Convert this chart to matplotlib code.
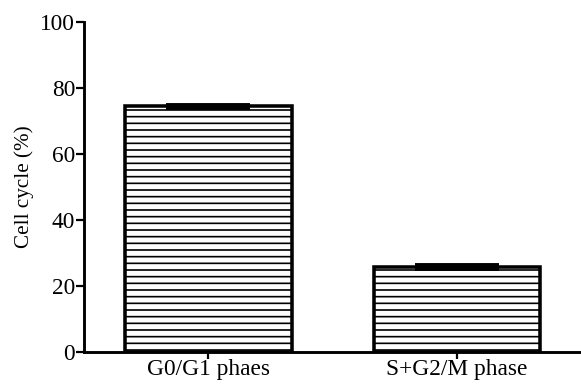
import matplotlib.pyplot as plt

# data
phases = ['G0/G1 phaes', 'S+G2/M phase']
percent = [74.5, 25.9]
err = [0.5, 0.6]

plt.rcParams['font.family'] = 'Liberation Serif'
plt.rcParams['hatch.linewidth'] = 1.5
plt.rcParams['hatch.color'] = '#3a3a3a'

dpi = 80
fig = plt.figure(figsize=(581 / dpi, 385 / dpi), dpi=dpi)
ax = fig.add_axes([0.1446, 0.0857, 0.8554, 0.857])

x = range(len(phases))
ax.bar(x, percent, width=0.67, color='white', edgecolor='black',
       linewidth=3.2, hatch='--', zorder=2)
ax.errorbar(x, percent, yerr=err, fmt='none', ecolor='black',
            elinewidth=2, capsize=38, capthick=3.5, zorder=3)

ax.set_xlim(-0.5, 1.5)
ax.set_ylim(0, 100)
ax.set_yticks([0, 20, 40, 60, 80, 100])
ax.set_xticks(list(x))
ax.set_xticklabels(phases)
ax.set_ylabel('Cell cycle (%)', fontsize=19, labelpad=6)

for side in ['top', 'right']:
    ax.spines[side].set_visible(False)
for side in ['left', 'bottom']:
    ax.spines[side].set_linewidth(2.6)
ax.tick_params(axis='y', width=2, length=7, labelsize=21, pad=1)
ax.tick_params(axis='x', width=2, length=6, labelsize=21, pad=0)

fig.savefig('out.png', dpi=dpi)
